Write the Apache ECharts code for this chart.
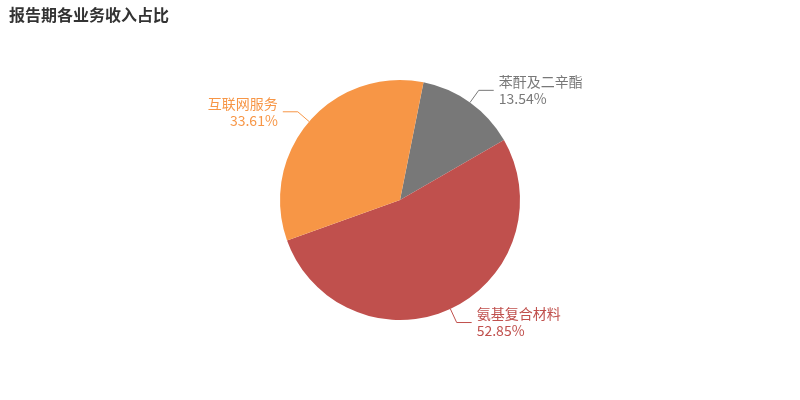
<!DOCTYPE html><html><head><meta charset="utf-8"><script src="https://cdn.jsdelivr.net/npm/echarts@6/dist/echarts.min.js"></script></head><body style="margin:0"><div id="c" style="width:800px;height:400px"></div><script>
var names=['苯酐及二辛酯','氨基复合材料','互联网服务'];
var values=[13.54,52.85,33.61];
var colors=['#787878','#c0504d','#f79646'];
var ch=echarts.init(document.getElementById('c'));
ch.setOption({
title:{text:'报告期各业务收入占比',left:4,top:2,textStyle:{fontSize:16,fontWeight:'bold',color:'#333',fontFamily:'Noto Sans CJK SC'}},
series:[{type:'pie',center:[400,200],radius:120,startAngle:78.7,clockwise:true,animation:false,
data:names.map(function(n,i){return {name:n,value:values[i],itemStyle:{color:colors[i]},label:{color:colors[i]},labelLine:{lineStyle:{color:colors[i]}}};}),
label:{formatter:'{b}\n{d}%',fontSize:14,lineHeight:17,fontFamily:'Noto Sans CJK SC'},
labelLine:{length:15,length2:15}
}]});
</script></body></html>
